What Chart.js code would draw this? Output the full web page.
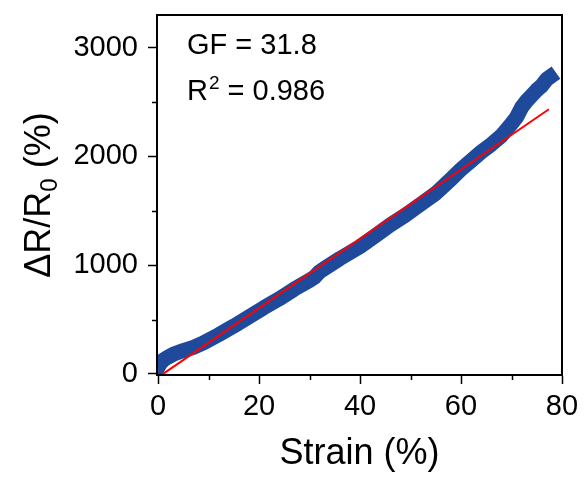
<!DOCTYPE html>
<html lang="en">
<head>
    <meta charset="UTF-8">
    <title>Strain response</title>
    <script src="https://cdn.jsdelivr.net/npm/chart.js"></script>
    <style>
        html, body { margin: 0; padding: 0; background: #fff; }
        #wrap { width: 585px; height: 480px; }
    </style>
</head>
<body>
    <div id="wrap">
        <canvas id="gfChart" width="585" height="480"></canvas>
    </div>

    <script>
// values
const strain = [0, 0.5, 1, 2, 3, 5, 7, 9, 12, 15, 18, 21, 24, 27, 30, 31, 32, 33, 34, 36, 38,
                40, 43, 46, 49, 52, 55, 58, 60, 62, 64, 66, 68, 70, 71, 72, 73, 74, 75, 76, 77, 77.6];
const deltaR = [60, 100, 125, 155, 180, 215, 245, 285, 360, 440, 525, 610, 690, 780, 860, 890, 940, 970, 1000, 1060, 1115,
                1170, 1270, 1370, 1460, 1560, 1660, 1790, 1880, 1960, 2040, 2110, 2190, 2300, 2360, 2450, 2510, 2560, 2610, 2650, 2710, 2730];
const fitStrain = [1, 77.4];
const fitDeltaR = [0, 2433];
const xTicks = [0, 20, 40, 60, 80];
const xMinor = [10, 30, 50, 70];
const yTicks = [0, 1000, 2000, 3000];
const yMinor = [500, 1500, 2500];
const gfText = 'GF = 31.8';
const r2Text = ' = 0.986';

const FONT = '"Liberation Sans", Arial, sans-serif';

const toPoints = (xs, ys) => xs.map((x, i) => ({ x: x, y: ys[i] }));

// box, minor ticks, axis title with subscript, fit text
const extras = {
    id: 'extras',
    afterDraw(chart) {
        const ctx = chart.ctx;
        const a = chart.chartArea;
        const xs = chart.scales.x, ys = chart.scales.y;
        ctx.save();
        ctx.strokeStyle = '#000';
        ctx.lineWidth = 2;
        ctx.strokeRect(a.left, a.top, a.right - a.left, a.bottom - a.top);

        ctx.lineWidth = 1.5;
        ctx.beginPath();
        xMinor.forEach(v => {
            const px = Math.round(xs.getPixelForValue(v)) + 0.5;
            ctx.moveTo(px, a.bottom);
            ctx.lineTo(px, a.bottom + 5);
        });
        yMinor.forEach(v => {
            const py = Math.round(ys.getPixelForValue(v)) + 0.5;
            ctx.moveTo(a.left, py);
            ctx.lineTo(a.left - 5, py);
        });
        ctx.stroke();

        // y title: ΔR/R0 (%)
        ctx.fillStyle = '#000';
        ctx.translate(50, 195);
        ctx.rotate(-Math.PI / 2);
        const big = '36px ' + FONT, small = '24px ' + FONT;
        ctx.font = big;
        const p1 = 'ΔR/R', p3 = ' (%)';
        const w1 = ctx.measureText(p1).width;
        const w3 = ctx.measureText(p3).width;
        ctx.font = small;
        const w2 = ctx.measureText('0').width;
        let x0 = -(w1 + w2 + w3) / 2;
        ctx.textBaseline = 'alphabetic';
        ctx.font = big;
        ctx.fillText(p1, x0, 0);
        ctx.font = small;
        ctx.fillText('0', x0 + w1, 7);
        ctx.font = big;
        ctx.fillText(p3, x0 + w1 + w2, 0);
        ctx.restore();

        // fit text
        ctx.save();
        ctx.fillStyle = '#000';
        ctx.textBaseline = 'alphabetic';
        ctx.font = '29px ' + FONT;
        ctx.fillText(gfText, 187, 54);
        ctx.fillText('R', 187, 100);
        const wr = ctx.measureText('R').width;
        ctx.font = '19px ' + FONT;
        ctx.fillText('2', 187 + wr + 1, 89);
        const w2s = ctx.measureText('2').width;
        ctx.font = '29px ' + FONT;
        ctx.fillText(r2Text, 187 + wr + w2s + 1, 100);
        ctx.restore();
    }
};

const ctx = document.getElementById('gfChart').getContext('2d');

new Chart(ctx, {
    type: 'line',
    data: {
        datasets: [
            {
                label: 'Linear fit',
                data: toPoints(fitStrain, fitDeltaR),
                borderColor: '#ff0000',
                borderWidth: 2,
                pointRadius: 0,
                order: 0,
            },
            {
                label: 'Measured',
                data: toPoints(strain, deltaR),
                borderColor: '#1f4a9b',
                borderWidth: 15,
                borderJoinStyle: 'round',
                borderCapStyle: 'square',
                pointRadius: 0,
                order: 1,
            },
        ],
    },
    options: {
        responsive: false,
        animation: false,
        layout: { padding: { left: 0, right: 23, top: 15, bottom: 0 } },
        plugins: {
            legend: { display: false },
            tooltip: { enabled: false },
        },
        scales: {
            x: {
                type: 'linear',
                min: -0.2,
                max: 80,
                afterBuildTicks: s => { s.ticks = xTicks.map(v => ({ value: v })); },
                afterFit: s => { s.height = 105; s.paddingLeft = 0; s.paddingRight = 0; },
                ticks: {
                    color: '#000',
                    padding: 6,
                    maxRotation: 0,
                    callback: v => String(v),
                    font: { family: FONT, size: 29 },
                },
                grid: {
                    drawOnChartArea: false,
                    tickLength: 9,
                    tickWidth: 1.5,
                    tickColor: '#000',
                },
                border: { color: '#000', width: 2 },
                title: {
                    display: true,
                    text: 'Strain (%)',
                    color: '#000',
                    font: { family: FONT, size: 36 },
                    padding: { top: 4 },
                },
            },
            y: {
                type: 'linear',
                min: -10,
                max: 3300,
                afterBuildTicks: s => { s.ticks = yTicks.map(v => ({ value: v })); },
                afterFit: s => { s.width = 157; s.paddingTop = 0; s.paddingBottom = 0; },
                ticks: {
                    color: '#000',
                    padding: 10,
                    callback: v => String(v),
                    font: { family: FONT, size: 29 },
                },
                grid: {
                    drawOnChartArea: false,
                    tickLength: 9,
                    tickWidth: 1.5,
                    tickColor: '#000',
                },
                border: { color: '#000', width: 2 },
            },
        },
    },
    plugins: [extras],
});
    </script>
</body>
</html>
